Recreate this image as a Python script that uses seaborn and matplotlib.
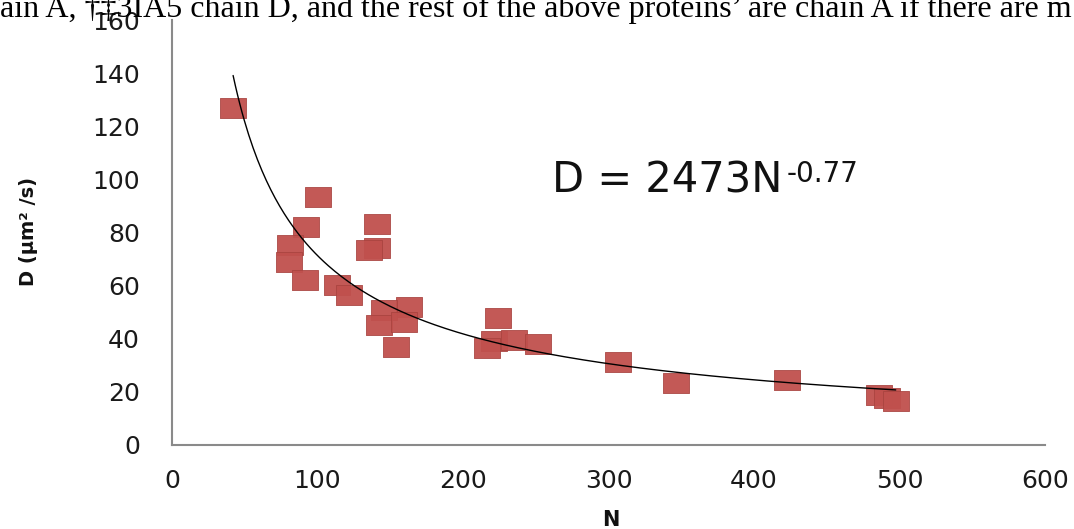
import numpy as np
import pandas as pd
import matplotlib
matplotlib.use("Agg")
import matplotlib.pyplot as plt
import seaborn as sns

# ---- data ----
N_values = [42, 100.5, 92, 141, 81.4, 80.2, 141.2, 135.4, 91.7, 113.6, 121.6,
            163, 145.7, 142.3, 159.5, 153.8, 224, 221, 216.8, 235, 251.5,
            306.7, 346.3, 423, 486, 491.7, 497.4]
D_values = [126.8, 93.5, 82, 83.2, 75.3, 69, 74, 73.4, 62.1, 60.2, 56.5,
            52, 50.8, 45.2, 46.4, 37, 48, 39.2, 36.4, 39.5, 38.1,
            31.4, 23.2, 24.5, 18.8, 17.6, 16.7]
x_ticks = [0, 100, 200, 300, 400, 500, 600]
y_ticks = [0, 20, 40, 60, 80, 100, 120, 140, 160]
FIT_A = 2473
FIT_B = -0.77
equation_base = "D = 2473N"
equation_exponent = "-0.77"
x_label = "N"
y_label = "D (µm² /s)"
caption_fragment = ("ain A, \u2020\u20213IA5 chain D, and the rest of the above "
                    "proteins\u2019 are chain A if there are m")

df = pd.DataFrame({"N": N_values, "D": D_values})
fit_N = np.linspace(min(N_values), max(N_values), 300)
fit_df = pd.DataFrame({"N": fit_N, "D": FIT_A * fit_N ** FIT_B})

sns.set_theme(style="white")
plt.rcParams["font.family"] = ["DejaVu Sans"]

W, H = 1074, 529
fig = plt.figure(figsize=(W / 100, H / 100), dpi=100)
fig.patch.set_facecolor("white")
ax = fig.add_axes([172 / W, (H - 445) / H, (1045 - 172) / W, (445 - 20) / H])
ax.set_facecolor("white")

rect_marker = [(-1.3, -1), (1.3, -1), (1.3, 1), (-1.3, 1), (-1.3, -1)]
sns.lineplot(data=fit_df, x="N", y="D", ax=ax, color="black", linewidth=1.0,
             zorder=3, sort=False)
sns.scatterplot(data=df, x="N", y="D", ax=ax, marker=rect_marker, s=370,
                color="#C0504D", edgecolor="#A8433F", linewidth=0.6,
                alpha=0.95, zorder=2)

ax.set_xlim(0, 600)
ax.set_ylim(0, 160)
ax.set_xticks(x_ticks)
ax.set_yticks(y_ticks)
ax.tick_params(axis="both", length=0, labelsize=18, colors="#1a1a1a")
ax.tick_params(axis="y", pad=23)
ax.tick_params(axis="x", pad=17)
for s in ["top", "right"]:
    ax.spines[s].set_visible(False)
for s in ["left", "bottom"]:
    ax.spines[s].set_color("#8a8a8a")
    ax.spines[s].set_linewidth(1.5)

ax.set_xlabel("")
ax.set_ylabel("")
fig.text(611 / W, 1 - 520 / H, x_label, ha="center", va="center",
         fontsize=15, fontweight="bold", color="#111111")
fig.text(28 / W, 1 - 232 / H, y_label, ha="center", va="center",
         rotation=90, fontsize=14, fontweight="bold", color="#111111")

base = ax.text(261, 95, equation_base, fontsize=30, ha="left", va="baseline",
               color="#111111")
ax.annotate(equation_exponent, xy=(1, 1), xycoords=base,
            xytext=(3, 0), textcoords="offset points",
            ha="left", va="top", fontsize=20, color="#111111")

fig.text(0, 1 - 17 / H, caption_fragment, ha="left", va="baseline",
         fontsize=23, family=["Liberation Serif", "DejaVu Serif"], color="black")

fig.savefig("out.png", dpi=100, facecolor="white")
